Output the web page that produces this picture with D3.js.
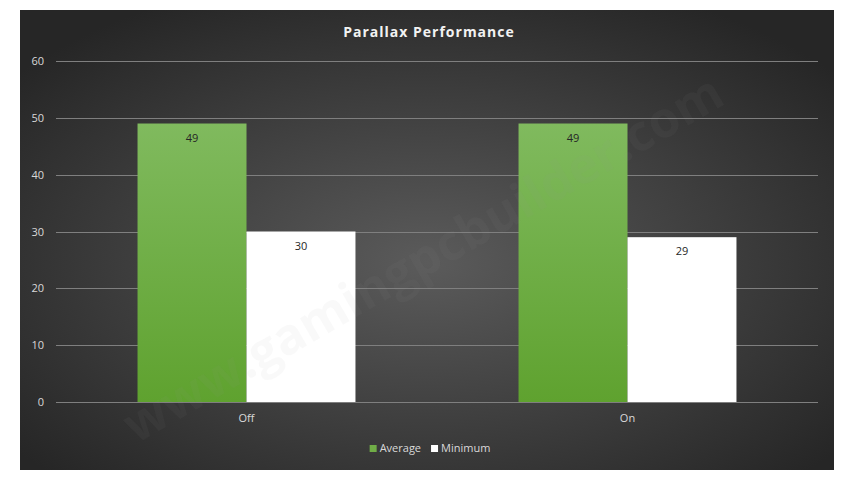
<!DOCTYPE html>
<html>
<head>
<meta charset="utf-8">
<script src="https://d3js.org/d3.v7.min.js"></script>
<style>
    body { margin: 0; background: #ffffff; }
    svg text { font-family: "Open Sans", "Noto Sans", sans-serif; }
    .tick-label { fill: #d9d9d9; font-size: 11px; }
    .grid { stroke: #7f7f7f; stroke-width: 1; }
    .title { fill: #f2f2f2; font-size: 14px; font-weight: bold; letter-spacing: 1px; }
    .value-label { fill: #262626; font-size: 11px; }
    .legend-label { fill: #d9d9d9; font-size: 11px; }
</style>
</head>
<body>
<script>
const WIDTH = 853;
const HEIGHT = 479;

const CATEGORIES = ["Off", "On"];
const SERIES = ["Average", "Minimum"];
const AVERAGE = [49, 49];
const MINIMUM = [30, 29];
const Y_TICKS = [0, 10, 20, 30, 40, 50, 60];
const TITLE = "Parallax Performance";
const WATERMARK = "www.gamingpcbuilder.com";

const values = [AVERAGE, MINIMUM];

// chart area box
const BOX = { x: 20, y: 10, w: 814, h: 460 };
const PLOT = { left: 56, right: 818, top: 61, bottom: 402 };

const svg = d3.select("body").append("svg")
    .attr("width", WIDTH)
    .attr("height", HEIGHT);

const defs = svg.append("defs");
const bg = defs.append("radialGradient")
    .attr("id", "bg")
    .attr("cx", "50%").attr("cy", "55%").attr("r", "65%");
bg.append("stop").attr("offset", "0%").attr("stop-color", "#5b5b5b");
bg.append("stop").attr("offset", "100%").attr("stop-color", "#262626");

const green = defs.append("linearGradient")
    .attr("id", "green")
    .attr("x1", 0).attr("y1", 0).attr("x2", 0).attr("y2", 1);
green.append("stop").attr("offset", "0%").attr("stop-color", "#80ba5e");
green.append("stop").attr("offset", "100%").attr("stop-color", "#5fa22f");

const COLORS = ["url(#green)", "#ffffff"];
const LEGEND_COLORS = ["#70ad47", "#ffffff"];

svg.append("rect")
    .attr("x", BOX.x).attr("y", BOX.y)
    .attr("width", BOX.w).attr("height", BOX.h)
    .attr("fill", "url(#bg)");

const y = d3.scaleLinear()
    .domain([0, 60])
    .range([PLOT.bottom, PLOT.top]);

const x0 = d3.scaleBand()
    .domain(CATEGORIES)
    .range([PLOT.left, PLOT.right])
    .paddingInner(0.428)
    .paddingOuter(0.214);

const x1 = d3.scaleBand()
    .domain(SERIES)
    .range([0, x0.bandwidth()]);

// gridlines
svg.append("g")
    .selectAll("line")
    .data(Y_TICKS)
    .enter()
    .append("line")
    .attr("class", "grid")
    .attr("x1", PLOT.left)
    .attr("x2", PLOT.right)
    .attr("y1", d => Math.round(y(d)) + 0.5)
    .attr("y2", d => Math.round(y(d)) + 0.5);

// tick labels
svg.append("g")
    .selectAll("text")
    .data(Y_TICKS)
    .enter()
    .append("text")
    .attr("class", "tick-label")
    .attr("x", 44)
    .attr("y", d => y(d) + 4)
    .attr("text-anchor", "end")
    .text(d => d);

// bars
const groups = svg.append("g")
    .selectAll("g")
    .data(CATEGORIES)
    .enter()
    .append("g")
    .attr("transform", d => "translate(" + x0(d) + ",0)");

groups.selectAll("rect")
    .data((d, i) => SERIES.map((s, j) => ({ series: s, idx: j, value: values[j][i] })))
    .enter()
    .append("rect")
    .attr("x", d => x1(d.series))
    .attr("y", d => y(d.value))
    .attr("width", x1.bandwidth())
    .attr("height", d => y(0) - y(d.value))
    .attr("fill", d => COLORS[d.idx]);

groups.selectAll("text")
    .data((d, i) => SERIES.map((s, j) => ({ series: s, idx: j, value: values[j][i] })))
    .enter()
    .append("text")
    .attr("class", "value-label")
    .attr("x", d => x1(d.series) + x1.bandwidth() / 2)
    .attr("y", d => y(d.value) + 18)
    .attr("text-anchor", "middle")
    .text(d => d.value);

// watermark, faint, over the bars
svg.append("text")
    .attr("x", 0).attr("y", 0)
    .attr("transform", "translate(425,262) rotate(-30)")
    .attr("text-anchor", "middle")
    .attr("dominant-baseline", "middle")
    .attr("fill", "#a0a0a0")
    .attr("fill-opacity", 0.06)
    .attr("font-size", 50)
    .attr("font-weight", "bold")
    .text(WATERMARK);

// category labels
svg.append("g")
    .selectAll("text")
    .data(CATEGORIES)
    .enter()
    .append("text")
    .attr("class", "tick-label")
    .attr("x", d => x0(d) + x0.bandwidth() / 2)
    .attr("y", 422)
    .attr("text-anchor", "middle")
    .text(d => d);

// title
svg.append("text")
    .attr("class", "title")
    .attr("x", BOX.x + BOX.w / 2 + 2)
    .attr("y", 37)
    .attr("text-anchor", "middle")
    .text(TITLE);

// legend
const legendItems = svg.append("g")
    .selectAll("g")
    .data(SERIES)
    .enter()
    .append("g");
legendItems.append("rect")
    .attr("width", 7).attr("height", 7)
    .attr("y", -7)
    .attr("fill", (d, i) => LEGEND_COLORS[i]);
legendItems.append("text")
    .attr("class", "legend-label")
    .attr("x", 10)
    .attr("y", 0)
    .text(d => d);
var widths = [];
legendItems.each(function() { widths.push(this.getBBox().width); });
var total = d3.sum(widths) + 10 * (widths.length - 1);
var lx = 430 - total / 2;
legendItems.attr("transform", function(d, i) {
    var t = "translate(" + lx + ",452)";
    lx += widths[i] + 10;
    return t;
});
</script>
</body>
</html>
